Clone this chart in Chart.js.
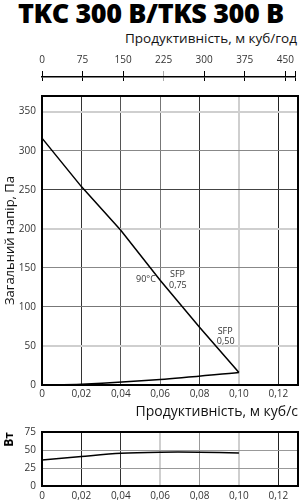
<!DOCTYPE html>
<html>
<head>
<meta charset="utf-8">
<script src="https://cdn.jsdelivr.net/npm/chart.js@4.4.0/dist/chart.umd.min.js"></script>
<style>
  body { margin: 0; background: #fff; width: 300px; height: 500px; position: relative; overflow: hidden; font-family: "Open Sans", sans-serif; }
  canvas { position: absolute; left: 0; }
  #title { position: absolute; left: 18px; top: -6px; font-size: 27px; font-weight: 800; letter-spacing: -0.4px; white-space: nowrap; color: #000; }
  #topTitle { position: absolute; right: 3px; top: 29px; font-size: 13.5px; color: #111; white-space: nowrap; }
</style>
</head>
<body>
<div id="title">TKC 300 B/TKS 300 B</div>
<div id="topTitle">Продуктивність, м куб/год</div>
<canvas id="topAxis" width="300" height="36" style="top:45px"></canvas>
<canvas id="mainChart" width="300" height="336" style="top:84px"></canvas>
<canvas id="powerChart" width="300" height="80" style="top:420px"></canvas>
<script>
// fan curve, m3/s vs Pa
const flowValues = [0, 0.02, 0.04, 0.06, 0.08, 0.10];
const pressureValues = [316, 254, 198, 134, 74, 16];
// system line
const systemFlow = [0, 0.02, 0.06, 0.10];
const systemPressure = [0, 1, 7, 16];
// power, W
const powerValues = [36, 41, 45.5, 47, 47, 46];
// top axis, m3/h
const topTicks = [0, 75, 150, 225, 300, 375, 450];
const topMax = 468;

const noteTexts = ["90°C", "SFP", "0,75", "SFP", "0,50"];
const noteX = [0.0528, 0.0688, 0.069, 0.093, 0.0933];
const noteY = [135, 142, 128, 69, 56];

// grid styles per tick
const mainXGrid = ["#000", "#333", "#555", "#777", "#333", "#cfcfcf", "#222"];
const mainXWidth = [1, 1, 1, 1, 1, 2, 1];
const mainYGrid = ["#000", "#cfcfcf", "#777", "#888", "#cfcfcf", "#444", "#888", "#cfcfcf"];
const mainYWidth = [1, 2, 1, 1, 2, 1, 1, 2];
const powXGrid = ["#000", "#222", "#333", "#cfcfcf", "#999", "#cfcfcf", "#222"];
const powXWidth = [1, 1, 1, 2, 1, 2, 1];

const tickFont = { family: "Open Sans", size: 10 };
const fmt = v => v === 0 ? "0" : v.toFixed(2).replace(".", ",");

const framePlugin = {
  id: "frame",
  afterDraw(chart) {
    const a = chart.chartArea, c = chart.ctx;
    c.save();
    c.strokeStyle = "#000";
    c.lineWidth = 2;
    c.strokeRect(a.left, a.top, a.right - a.left, a.bottom - a.top);
    c.restore();
  }
};

const notePlugin = {
  id: "notes",
  afterDatasetsDraw(chart) {
    const c = chart.ctx, sx = chart.scales.x, sy = chart.scales.y;
    c.save();
    c.font = "9px 'Open Sans'";
    c.fillStyle = "#333";
    c.textAlign = "center";
    c.textBaseline = "middle";
    noteTexts.forEach((t, i) => {
      c.fillText(t, sx.getPixelForValue(noteX[i]), sy.getPixelForValue(noteY[i]));
    });
    c.restore();
  }
};

new Chart("topAxis", {
  type: "line",
  data: { datasets: [] },
  options: {
    responsive: false,
    animation: false,
    layout: { padding: { left: 42, right: 2, top: 0, bottom: 0 } },
    plugins: { legend: { display: false }, tooltip: { enabled: false } },
    scales: {
      x: {
        type: "linear", position: "top", min: 0, max: topMax,
        afterBuildTicks: s => { s.ticks = topTicks.concat([topMax]).map(v => ({ value: v })); },
        ticks: { autoSkip: false, font: tickFont, color: "#333", padding: 5, maxRotation: 0,
                 callback: v => topTicks.includes(v) ? v : "" },
        grid: { color: ctx => ctx.index === 3 ? "#aaa" : "#000", tickLength: 6, lineWidth: 1 },
        border: { color: "#000", width: 1.5 },
        afterFit: s => { s.height = 32; }
      },
      y: { display: false, min: 0, max: 1 }
    }
  }
});

new Chart("mainChart", {
  type: "line",
  data: {
    datasets: [
      { data: flowValues.map((f, i) => ({ x: f, y: pressureValues[i] })),
        borderColor: "#000", borderWidth: 1.5, pointRadius: 0, tension: 0 },
      { data: systemFlow.map((f, i) => ({ x: f, y: systemPressure[i] })),
        borderColor: "#000", borderWidth: 1.5, pointRadius: 0, tension: 0.3 }
    ]
  },
  options: {
    responsive: false,
    animation: false,
    layout: { padding: { top: 6, right: 2 } },
    plugins: { legend: { display: false }, tooltip: { enabled: false } },
    scales: {
      x: {
        type: "linear", min: 0, max: 0.13,
        ticks: { stepSize: 0.02, includeBounds: false, font: tickFont, color: "#333", padding: 3, maxRotation: 0, callback: fmt },
        grid: { color: ctx => mainXGrid[ctx.index], lineWidth: ctx => mainXWidth[ctx.index], drawTicks: false },
        border: { display: false },
        title: { display: true, text: "Продуктивність, м куб/с", align: "end", color: "#111",
                 font: { family: "Open Sans", size: 14 }, padding: { top: 0, bottom: 0 } },
        afterFit: s => { s.height = 35; }
      },
      y: {
        min: 0, max: 370,
        ticks: { stepSize: 50, includeBounds: false, font: tickFont, color: "#333", padding: 6 },
        grid: { color: ctx => mainYGrid[ctx.index], lineWidth: ctx => mainYWidth[ctx.index], drawTicks: false },
        border: { display: false },
        title: { display: true, text: "Загальний напір, Па", color: "#111",
                 font: { family: "Open Sans", size: 13 }, padding: { top: 2, bottom: 0 } },
        afterFit: s => { s.width = 42; }
      }
    }
  },
  plugins: [framePlugin, notePlugin]
});

new Chart("powerChart", {
  type: "line",
  data: {
    datasets: [
      { data: flowValues.map((f, i) => ({ x: f, y: powerValues[i] })),
        borderColor: "#000", borderWidth: 1.5, pointRadius: 0, tension: 0.3 }
    ]
  },
  options: {
    responsive: false,
    animation: false,
    layout: { padding: { top: 7, right: 2 } },
    plugins: { legend: { display: false }, tooltip: { enabled: false } },
    scales: {
      x: {
        type: "linear", min: 0, max: 0.13,
        ticks: { stepSize: 0.02, includeBounds: false, font: tickFont, color: "#333", padding: 4, maxRotation: 0, callback: fmt },
        grid: { color: ctx => powXGrid[ctx.index], lineWidth: ctx => powXWidth[ctx.index], drawTicks: false },
        border: { display: false },
        afterFit: s => { s.height = 14; }
      },
      y: {
        min: 0, max: 75,
        ticks: { stepSize: 25, font: tickFont, color: "#333", padding: 6 },
        grid: { color: ctx => ctx.index === 3 ? "#000" : "#999", drawTicks: false },
        border: { display: false },
        title: { display: true, text: "Вт", align: "end", color: "#000",
                 font: { family: "Open Sans", size: 12, weight: "bold" }, padding: { top: 2, bottom: 0 } },
        afterFit: s => { s.width = 42; }
      }
    }
  },
  plugins: [framePlugin]
});
</script>
</body>
</html>
